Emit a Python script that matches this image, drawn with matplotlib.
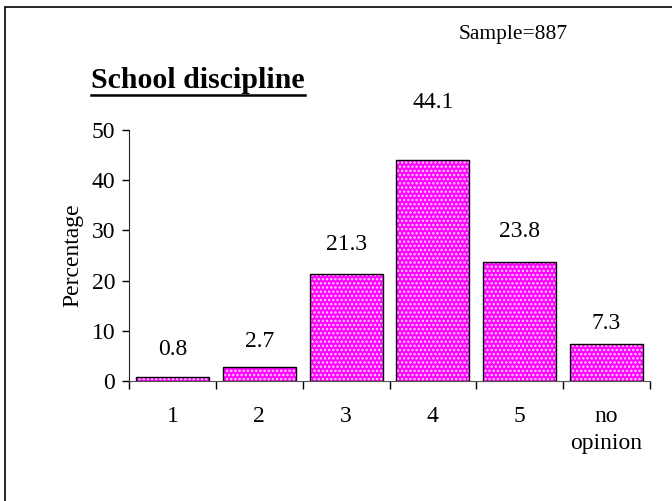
import numpy as np
import matplotlib.pyplot as plt
from matplotlib.patches import Rectangle

# data
categories = ["1", "2", "3", "4", "5", "no\nopinion"]
percentages = [0.8, 2.7, 21.3, 44.1, 23.8, 7.3]
y_ticks = [0, 10, 20, 30, 40, 50]
sample_size = 887
title = "School discipline"

# label offsets above each bar, in pixels (as placed in the original)
label_pad_px = [27, 26, 30, 57, 30, 21]

plt.rcParams["font.family"] = ["Liberation Serif", "DejaVu Serif"]
plt.rcParams["hatch.linewidth"] = 1.2

fig = plt.figure(figsize=(6.72, 5.01), dpi=100)
ax = fig.add_axes([129 / 672, 120 / 501, 521 / 672, 251 / 501])

x = np.arange(len(categories))
# pattern layer: magenta with white dots, then black outline on top
ax.bar(x, percentages, width=0.84, color="#ff00ff", edgecolor="#ffd0ff",
       hatch="....", linewidth=0)
ax.bar(x, percentages, width=0.84, fill=False, edgecolor="black",
       linewidth=1.0)

for xi, v, pad in zip(x, percentages, label_pad_px):
    ax.annotate(f"{v}", (xi, v), xytext=(0, pad * 0.72),
                textcoords="offset points", ha="center", va="center",
                fontsize=17)

ax.set_xlim(-0.5, len(categories) - 0.5)
ax.set_ylim(0, 50)
ax.set_yticks(y_ticks)
ax.tick_params(axis="y", labelsize=17, length=5, width=1, direction="out", pad=5)

# category boundaries as major ticks, labels on minor ticks at centres
ax.set_xticks(np.arange(len(categories) + 1) - 0.5)
ax.set_xticklabels([])
ax.set_xticks(x, minor=True)
ax.set_xticklabels(categories, minor=True, fontsize=17, va="top",
                   linespacing=1.35)
ax.tick_params(axis="x", which="major", length=6, width=1, direction="out")
ax.tick_params(axis="x", which="minor", length=0, pad=18)

ax.set_ylabel("Percentage", fontsize=17, labelpad=6)

for side in ("top", "right"):
    ax.spines[side].set_visible(False)
ax.spines["left"].set_color("#222222")
ax.spines["bottom"].set_color("#555555")

t = fig.text(91 / 672, 1 - 81 / 501, title, fontsize=21.5, fontweight="bold",
             ha="left", va="center")
fig.canvas.draw()
bb = t.get_window_extent()
uy = (501 - 95) / 501
fig.lines.append(plt.Line2D([bb.x0 / 672, bb.x1 / 672], [uy, uy],
                            transform=fig.transFigure, color="black",
                            linewidth=1.8))

fig.text(513 / 672, 1 - 35 / 501, f"Sample={sample_size}", fontsize=15.5,
         ha="center", va="center")

# outer frame
fig.patches.append(Rectangle((5 / 672, -0.01), 1.0, 1 - 7 / 501 + 0.01,
                             transform=fig.transFigure, fill=False,
                             edgecolor="black", linewidth=1.2))

fig.savefig("out.png", dpi=100)
